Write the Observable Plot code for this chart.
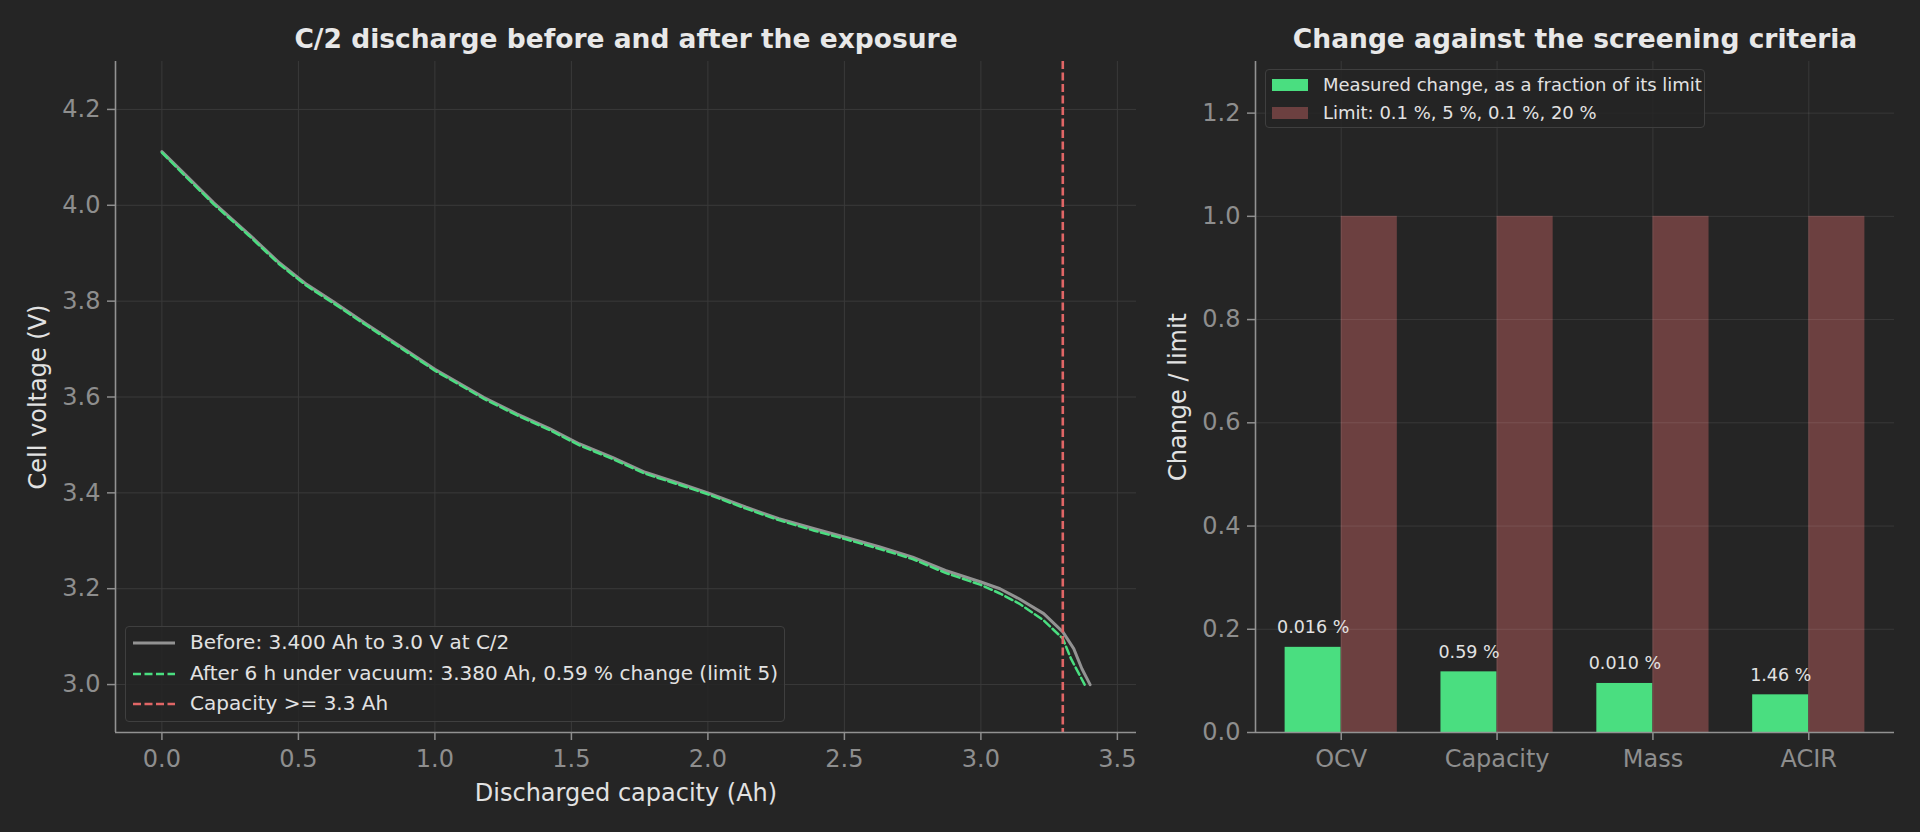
<!DOCTYPE html>
<html><head><meta charset="utf-8">
<script src="https://cdn.jsdelivr.net/npm/d3@7"></script>
<script src="https://cdn.jsdelivr.net/npm/@observablehq/plot@0.6"></script>
<style>
html,body{margin:0;padding:0;background:#252525;}
#root{position:relative;width:1920px;height:832px;overflow:hidden;background:#252525;font-family:"DejaVu Sans",sans-serif;}
.chart{position:absolute;top:0;}
.legend{position:absolute;border:1.5px solid #3f3f3f;border-radius:4px;background:rgba(37,37,37,0.85);color:#e2e2e2;box-sizing:border-box;}
.row{position:absolute;white-space:nowrap;line-height:1;}
.sample{position:absolute;}
</style></head><body><div id="root"></div>
<script>
// ---- Left panel data: C/2 discharge curves ----
const beforeCap = [0, 0.08, 0.19, 0.32, 0.43, 0.53, 0.63, 0.75, 0.87, 1.0, 1.18, 1.3, 1.42, 1.53, 1.65, 1.77, 1.9, 2.0, 2.14, 2.26, 2.39, 2.5, 2.63, 2.75, 2.87, 3.0, 3.07, 3.14, 3.23, 3.3, 3.34, 3.37, 3.4];
const beforeV   = [4.112, 4.067, 4.005, 3.939, 3.880, 3.835, 3.798, 3.752, 3.707, 3.658, 3.599, 3.565, 3.534, 3.502, 3.474, 3.443, 3.419, 3.400, 3.370, 3.346, 3.325, 3.308, 3.287, 3.266, 3.238, 3.214, 3.200, 3.179, 3.148, 3.110, 3.075, 3.033, 3.000];
const afterCap  = [0, 0.08, 0.19, 0.32, 0.43, 0.53, 0.63, 0.75, 0.87, 1.0, 1.18, 1.3, 1.42, 1.53, 1.65, 1.77, 1.9, 2.0, 2.14, 2.26, 2.39, 2.5, 2.63, 2.75, 2.87, 3.0, 3.07, 3.14, 3.23, 3.3, 3.33, 3.38];
const afterV    = [4.110, 4.064, 4.002, 3.936, 3.877, 3.832, 3.795, 3.749, 3.704, 3.655, 3.596, 3.562, 3.531, 3.499, 3.471, 3.440, 3.416, 3.397, 3.367, 3.343, 3.321, 3.304, 3.283, 3.262, 3.233, 3.208, 3.190, 3.169, 3.134, 3.096, 3.054, 3.000];
const capLimit = 3.3;
const leftXTicks = [0, 0.5, 1.0, 1.5, 2.0, 2.5, 3.0, 3.5];
const leftYTicks = [3.0, 3.2, 3.4, 3.6, 3.8, 4.0, 4.2];
const leftXDomain = [-0.17, 3.57];
const leftYDomain = [2.9, 4.3];
const leftTitle = "C/2 discharge before and after the exposure";
const leftXLabel = "Discharged capacity (Ah)";
const leftYLabel = "Cell voltage (V)";
const leftLegend = ["Before: 3.400 Ah to 3.0 V at C/2", "After 6 h under vacuum: 3.380 Ah, 0.59 % change (limit 5)", "Capacity >= 3.3 Ah"];

// ---- Right panel data: screening criteria ----
const criteria = ["OCV", "Capacity", "Mass", "ACIR"];
const measuredFrac = [0.165, 0.1175, 0.095, 0.073];
const limitFrac = [1, 1, 1, 1];
const barLabels = ["0.016 %", "0.59 %", "0.010 %", "1.46 %"];
const rightYTicks = [0, 0.2, 0.4, 0.6, 0.8, 1.0, 1.2];
const rightXDomain = [-0.55, 3.55];
const rightYDomain = [0, 1.3];
const rightTitle = "Change against the screening criteria";
const rightYLabel = "Change / limit";
const rightLegend = ["Measured change, as a fraction of its limit", "Limit: 0.1 %, 5 %, 0.1 %, 20 %"];

// ---- styles ----
const gridC = "#3a3a3a", spineC = "#929292", tickC = "#8e8e8e", textC = "#e2e2e2", titleC = "#e8e8e8";
const grayC = "#939393", greenC = "#4ade80", redC = "#e06666", limitC = "#6c4040";
const barW = 0.36;

const root = document.getElementById("root");

const before = beforeCap.map((c, i) => ({cap: c, v: beforeV[i]}));
const after = afterCap.map((c, i) => ({cap: c, v: afterV[i]}));

const axisOpts = {tickSize: 8, tickPadding: 7, fontSize: 24, color: tickC, strokeWidth: 1.5, label: null};
const axisXOpts = {...axisOpts, tickPadding: 9};

const left = Plot.plot({
  width: 1160, height: 832,
  marginLeft: 115, marginRight: 24, marginTop: 61, marginBottom: 100,
  style: {background: "transparent", fontFamily: "DejaVu Sans", overflow: "visible"},
  x: {domain: leftXDomain},
  y: {domain: leftYDomain},
  marks: [
    Plot.gridX(leftXTicks, {stroke: gridC, strokeOpacity: 1}),
    Plot.gridY(leftYTicks, {stroke: gridC, strokeOpacity: 1}),
    Plot.line(before, {x: "cap", y: "v", stroke: grayC, strokeWidth: 3}),
    Plot.line(after, {x: "cap", y: "v", stroke: greenC, strokeWidth: 2.5, strokeDasharray: "8,3.5"}),
    Plot.ruleX([capLimit], {stroke: redC, strokeWidth: 2.6, strokeDasharray: "8,3.5"}),
    Plot.ruleX([leftXDomain[0]], {stroke: spineC, strokeWidth: 1.6}),
    Plot.ruleY([leftYDomain[0]], {stroke: spineC, strokeWidth: 1.6}),
    Plot.axisX(leftXTicks, {...axisXOpts, tickFormat: d3.format(".1f")}),
    Plot.axisY(leftYTicks, {...axisOpts, tickFormat: d3.format(".1f")}),
    Plot.text([leftXLabel], {frameAnchor: "bottom", dy: 68, fontSize: 24, fill: textC, textAnchor: "middle"}),
    Plot.text([leftYLabel], {frameAnchor: "left", dx: -77, rotate: -90, fontSize: 24, fill: textC, textAnchor: "middle"}),
    Plot.text([leftTitle], {frameAnchor: "top", dy: -32, fontSize: 26.5, fontWeight: "bold", fill: titleC, textAnchor: "middle"})
  ]
});
left.classList.add("chart");
left.style.left = "0px";
root.appendChild(left);

const rows = criteria.map((c, i) => ({i, c, m: measuredFrac[i], l: limitFrac[i], label: barLabels[i]}));
const right = Plot.plot({
  width: 770, height: 832,
  marginLeft: 105, marginRight: 26, marginTop: 61, marginBottom: 100,
  style: {background: "transparent", fontFamily: "DejaVu Sans", overflow: "visible"},
  x: {domain: rightXDomain},
  y: {domain: rightYDomain},
  marks: [
    Plot.rect(rows, {x1: d => d.i - barW, x2: d => d.i, y1: 0, y2: "m", fill: greenC}),
    Plot.rect(rows, {x1: d => d.i, x2: d => d.i + barW, y1: 0, y2: "l", fill: limitC}),
    Plot.gridX([0, 1, 2, 3], {stroke: "#ffffff", strokeOpacity: 0.09}),
    Plot.gridY(rightYTicks, {stroke: "#ffffff", strokeOpacity: 0.09}),
    Plot.text(rows, {x: d => d.i - barW / 2, y: "m", text: "label", lineAnchor: "bottom", dy: -14, fontSize: 17.5, fill: textC}),
    Plot.ruleX([rightXDomain[0]], {stroke: spineC, strokeWidth: 1.6}),
    Plot.ruleY([rightYDomain[0]], {stroke: spineC, strokeWidth: 1.6}),
    Plot.axisX([0, 1, 2, 3], {...axisXOpts, tickFormat: i => criteria[i]}),
    Plot.axisY(rightYTicks, {...axisOpts, tickFormat: d3.format(".1f")}),
    Plot.text([rightYLabel], {frameAnchor: "left", dx: -77, rotate: -90, fontSize: 24, fill: textC, textAnchor: "middle"}),
    Plot.text([rightTitle], {frameAnchor: "top", dy: -32, fontSize: 26.5, fontWeight: "bold", fill: titleC, textAnchor: "middle"})
  ]
});
right.classList.add("chart");
right.style.left = "1150px";
root.appendChild(right);

// ---- legends ----
function lineSample(stroke, width, dash) {
  return `<svg class="sample" width="44" height="10" style="left:6px;top:-5px"><line x1="1" y1="5" x2="43" y2="5" stroke="${stroke}" stroke-width="${width}" ${dash ? `stroke-dasharray="${dash}"` : ""}/></svg>`;
}
const lg1 = document.createElement("div");
lg1.className = "legend";
Object.assign(lg1.style, {left: "125px", top: "626px", width: "660px", height: "96px", fontSize: "20px"});
const styles1 = [[grayC, 3, null], [greenC, 2.6, "8,3.5"], [redC, 2.6, "8,3.5"]];
lg1.innerHTML = leftLegend.map((t, k) => `<div style="position:absolute;left:0;top:${16 + k * 30.5}px;width:100%">${lineSample(...styles1[k])}<span class="row" style="left:64px;top:-11px">${t}</span></div>`).join("");
root.appendChild(lg1);

const lg2 = document.createElement("div");
lg2.className = "legend";
Object.assign(lg2.style, {left: "1265px", top: "69px", width: "440px", height: "59px", fontSize: "18px"});
const fills2 = [greenC, limitC];
lg2.innerHTML = rightLegend.map((t, k) => `<div style="position:absolute;left:0;top:${15 + k * 27.6}px;width:100%"><div style="position:absolute;left:6px;top:-6px;width:36px;height:12px;background:${fills2[k]}"></div><span class="row" style="left:57px;top:-9px">${t}</span></div>`).join("");
root.appendChild(lg2);
</script>
</body></html>
